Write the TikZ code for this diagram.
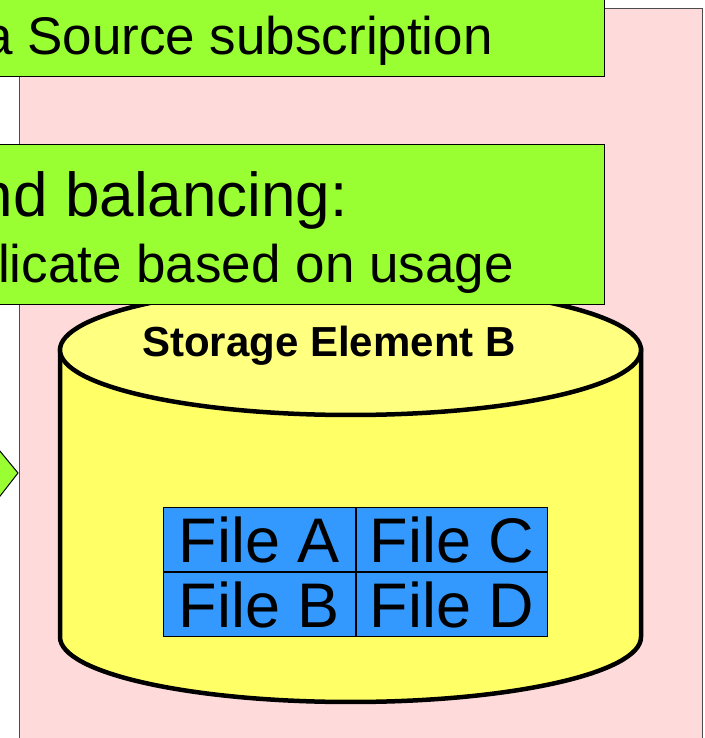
\documentclass[tikz,border=0pt]{standalone}
\usepackage{fontspec}
\setmainfont{Liberation Sans}
\usetikzlibrary{positioning}
\definecolor{bggreen}{HTML}{99FF33}
\definecolor{bgpink}{HTML}{FFDADA}
\definecolor{drumbody}{HTML}{FFFF66}
\definecolor{drumlid}{HTML}{FFFF80}
\definecolor{fileblue}{HTML}{3399FF}
\tikzset{
	banner/.style={fill=bggreen,draw=black,line width=1pt},
	drum/.style={draw=black,line width=4.5pt},
	filecell/.style={draw=black,line width=1pt,fill=fileblue,minimum width=191.5pt,minimum height=64pt,inner sep=0pt,font=\fontsize{63}{63}\selectfont}
}
\begin{document}
\begin{tikzpicture}[x=1pt,y=1pt]
				\useasboundingbox (0,0) rectangle (704,738);
				\fill[white] (0,0) rectangle (704,738);
				\draw[fill=bgpink,draw=black!70,line width=1pt] (19,-10) rectangle (702,729);
				\draw[drum,fill=drumbody] (60,388) -- (60,101) arc[start angle=180,end angle=360,x radius=290.5,y radius=65] -- (641,388) -- cycle;
				\draw[drum,fill=drumlid] (350.5,388) ellipse [x radius=290.5,y radius=65];
				\node[font=\fontsize{42}{42}\selectfont\bfseries,anchor=base] (selabel) at (329,381) {Storage Element B};
				\node[filecell] (fileA) at (259.5,198) {File A};
				\node[filecell,right=0pt of fileA] (fileC) {File C};
				\node[filecell,below=0pt of fileA] (fileB) {File B};
				\node[filecell,below=0pt of fileC] (fileD) {File D};
				\draw[banner] (-10,661) rectangle (604,750);
				\node[font=\fontsize{53}{53}\selectfont,anchor=base east,inner sep=0pt] (subscr) at (493,683) {a Source subscription};
				\draw[banner] (-10,433) rectangle (604,593);
				\node[font=\fontsize{62}{62}\selectfont,anchor=base east,inner sep=0pt] (balance) at (348,521) {nd balancing:};
				\node[font=\fontsize{53}{53}\selectfont,anchor=base east,inner sep=0pt] (replicate) at (514,455) {licate based on usage};
				\draw[banner] (-10,299) -- (18,265) -- (-10,229);
\end{tikzpicture}
\end{document}
